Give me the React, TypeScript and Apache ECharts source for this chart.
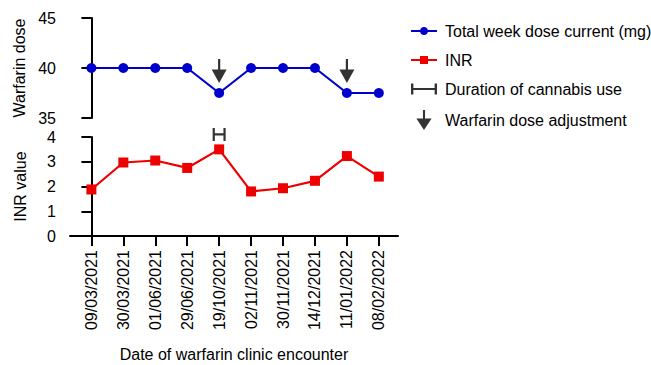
import React, { useEffect, useRef } from "react";
import * as echarts from "echarts";

const dates = [
  "09/03/2021",
  "30/03/2021",
  "01/06/2021",
  "29/06/2021",
  "19/10/2021",
  "02/11/2021",
  "30/11/2021",
  "14/12/2021",
  "11/01/2022",
  "08/02/2022",
];
const doseValues = [40, 40, 40, 40, 37.5, 40, 40, 40, 37.5, 37.5];
const inrValues = [1.88, 2.97, 3.05, 2.75, 3.5, 1.8, 1.93, 2.23, 3.23, 2.4];
const cannabisIdx = [4];
const adjustmentIdx = [4, 8];
const doseTicks = [35, 40, 45];
const inrTicks = [0, 1, 2, 3, 4];

const FONT = "'Liberation Sans', Arial, Helvetica, sans-serif";
const BLUE = "#0000cd";
const RED = "#ee0000";

const arrowPath =
  "path://M-1.1 0L1.1 0L1.1 10L7.5 10L0 23L-7.5 10L-1.1 10Z";
const arrowLegendPath =
  "path://M-1.1 0L1.1 0L1.1 9L8 9L0 21L-8 9L-1.1 9Z";
const hPath = "path://M0 0H2.2V5.4H10.8V0H13V13H10.8V7.6H2.2V13H0Z";
const hLegendPath = "path://M0 0H2.2V4H21.8V0H24V10H21.8V6H2.2V10H0Z";
const doseLegendPath =
  "path://M0 3H9.13A4 4 0 0 1 16.87 3H26V5H16.87A4 4 0 0 1 9.13 5H0Z";
const inrLegendPath = "path://M0 3H9V0H17V3H26V5H17V8H9V5H0Z";

const X_MIN = -0.67;
const X_MAX = 9.6;

export default function App() {
  const ref = useRef<HTMLDivElement>(null);
  useEffect(() => {
    document.body.style.margin = "0";
    if (!ref.current) return;
    const chart = echarts.init(ref.current, null, { renderer: "svg" });
    const axisLineStyle = { color: "#000", width: 2 };
    const xBase = {
      type: "value" as const,
      min: X_MIN,
      max: X_MAX,
      splitLine: { show: false },
    };
    chart.setOption({
      animation: false,
      backgroundColor: "#fff",
      textStyle: { fontFamily: FONT },
      grid: [
        { left: 70, top: 18, width: 328, height: 100 },
        { left: 70, top: 137, width: 328, height: 99 },
      ],
      xAxis: [
        { ...xBase, gridIndex: 0, show: false },
        {
          ...xBase,
          gridIndex: 1,
          name: "Date of warfarin clinic encounter",
          nameLocation: "middle",
          nameGap: 110,
          nameTextStyle: { fontSize: 16, color: "#000", fontFamily: FONT },
          axisLine: { lineStyle: axisLineStyle },
          axisTick: {
            show: true,
            length: 10,
            lineStyle: { color: "#000", width: 2 },
            customValues: dates.map((_, i) => i),
          },
          axisLabel: {
            rotate: 90,
            margin: 14,
            fontSize: 16,
            color: "#000",
            fontFamily: FONT,
            customValues: dates.map((_, i) => i),
            formatter: (v: number) => dates[Math.round(v)] ?? "",
          },
        },
      ],
      yAxis: [
        {
          type: "value",
          gridIndex: 0,
          min: doseTicks[0],
          max: doseTicks[doseTicks.length - 1],
          interval: 5,
          name: "Warfarin dose",
          nameLocation: "middle",
          nameGap: 42,
          nameTextStyle: { fontSize: 16, color: "#000", fontFamily: FONT },
          splitLine: { show: false },
          axisLine: { show: true, lineStyle: axisLineStyle },
          axisTick: { show: true, length: 10, lineStyle: { color: "#000", width: 2 } },
          axisLabel: { fontSize: 16, color: "#000", margin: 14, fontFamily: FONT },
        },
        {
          type: "value",
          gridIndex: 1,
          min: inrTicks[0],
          max: inrTicks[inrTicks.length - 1],
          interval: 1,
          name: "INR value",
          nameLocation: "middle",
          nameGap: 42,
          nameTextStyle: { fontSize: 16, color: "#000", fontFamily: FONT },
          splitLine: { show: false },
          axisLine: { show: true, lineStyle: axisLineStyle },
          axisTick: { show: true, length: 10, lineStyle: { color: "#000", width: 2 } },
          axisLabel: { fontSize: 16, color: "#000", margin: 14, fontFamily: FONT },
        },
      ],
      legend: {
        orient: "vertical",
        left: 406,
        top: 18,
        itemWidth: 26,
        itemHeight: 20,
        itemGap: 13,
        symbolKeepAspect: true,
        textStyle: {
          fontSize: 16,
          color: "#000",
          fontFamily: FONT,
          padding: [0, 0, 0, 3],
        },
        data: [
          { name: "Total week dose current (mg)", icon: doseLegendPath },
          { name: "INR", icon: inrLegendPath },
          { name: "Duration of cannabis use", icon: hLegendPath },
          { name: "Warfarin dose adjustment", icon: arrowLegendPath },
        ],
      },
      series: [
        {
          name: "Total week dose current (mg)",
          type: "line",
          xAxisIndex: 0,
          yAxisIndex: 0,
          data: doseValues.map((v, i) => [i, v]),
          symbol: "circle",
          symbolSize: 10,
          color: BLUE,
          lineStyle: { color: BLUE, width: 2.2 },
          itemStyle: { color: BLUE },
        },
        {
          name: "INR",
          type: "line",
          xAxisIndex: 1,
          yAxisIndex: 1,
          data: inrValues.map((v, i) => [i, v]),
          symbol: "rect",
          symbolSize: 10,
          color: RED,
          lineStyle: { color: RED, width: 2.2 },
          itemStyle: { color: RED },
        },
        {
          name: "Duration of cannabis use",
          type: "scatter",
          xAxisIndex: 1,
          yAxisIndex: 1,
          clip: false,
          data: cannabisIdx.map((i) => [i, inrValues[i]]),
          symbol: hPath,
          symbolSize: [13, 13],
          symbolOffset: [0, -15],
          color: "#000",
          itemStyle: { color: "#000" },
        },
        {
          name: "Warfarin dose adjustment",
          type: "scatter",
          xAxisIndex: 0,
          yAxisIndex: 0,
          clip: false,
          data: adjustmentIdx.map((i) => [i, doseValues[i]]),
          symbol: arrowPath,
          symbolSize: [15, 24],
          symbolOffset: [0, -22],
          color: "#000",
          itemStyle: { color: "#000" },
        },
      ],
    });
    return () => chart.dispose();
  }, []);
  return <div ref={ref} style={{ width: 651, height: 365 }} />;
}
